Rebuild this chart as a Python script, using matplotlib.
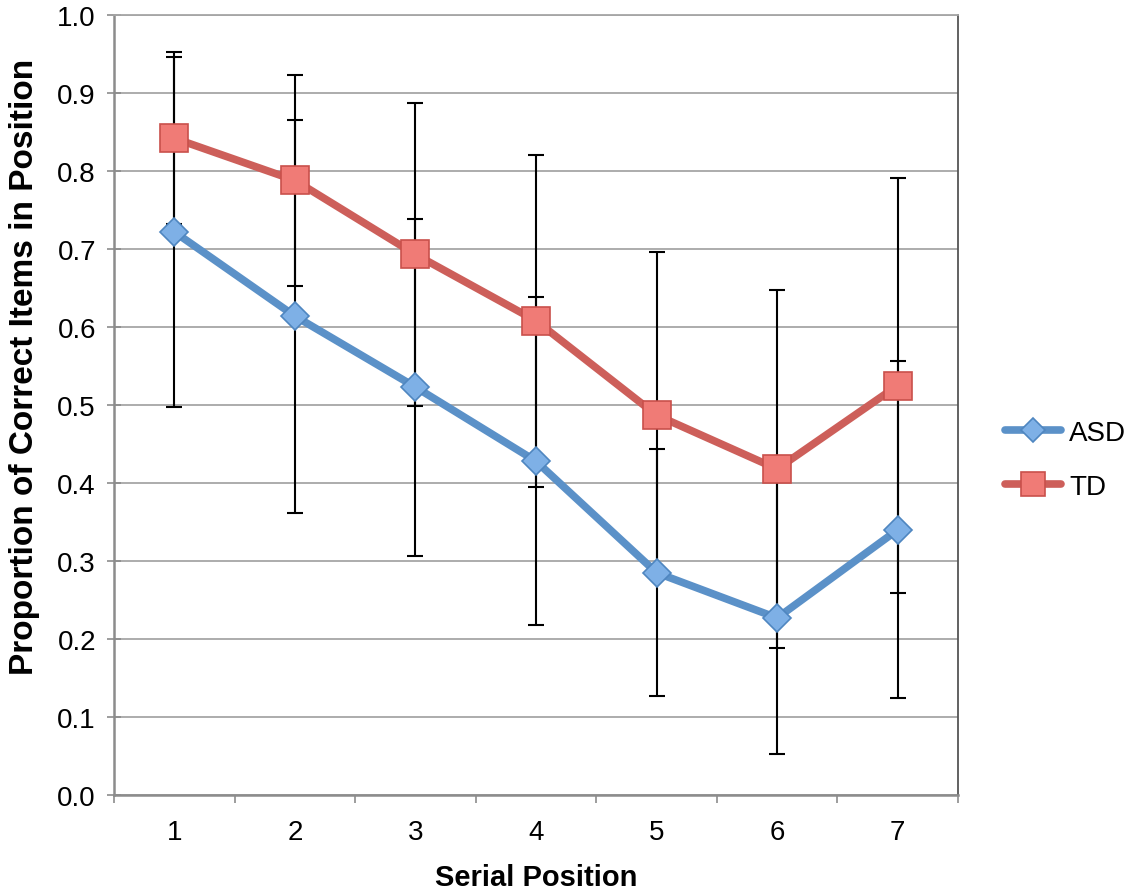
import matplotlib
matplotlib.use("Agg")
import matplotlib.pyplot as plt
import numpy as np

plt.rcParams['font.family'] = ['Liberation Sans', 'DejaVu Sans']

positions = [1, 2, 3, 4, 5, 6, 7]
asd_mean = [0.722, 0.614, 0.523, 0.428, 0.285, 0.227, 0.340]
asd_err = [0.224, 0.252, 0.216, 0.210, 0.158, 0.175, 0.216]
td_mean = [0.842, 0.788, 0.693, 0.608, 0.487, 0.418, 0.525]
td_err = [0.110, 0.135, 0.194, 0.213, 0.209, 0.229, 0.266]
y_ticks = [0.0, 0.1, 0.2, 0.3, 0.4, 0.5, 0.6, 0.7, 0.8, 0.9, 1.0]

fig = plt.figure(figsize=(11.38, 8.95), dpi=100)
ax = fig.add_axes([0.1002, 0.1106, 0.7416, 0.8715])

# error bars first, below the lines
for m, e in [(asd_mean, asd_err), (td_mean, td_err)]:
    ax.errorbar(positions, m, yerr=e, fmt='none', ecolor='black',
                elinewidth=1.5, capsize=5.5, capthick=1.5, zorder=2)

ax.plot(positions, asd_mean, color='#5B91C8', lw=5.5, marker='D', ms=14,
        mfc='#7EB0E6', mec='#4F86C0', mew=1.2, label='ASD', zorder=3,
        solid_capstyle='round')
ax.plot(positions, td_mean, color='#CD5F5A', lw=5.5, marker='s', ms=19.5,
        mfc='#F07B76', mec='#C9504B', mew=1.2, label='TD', zorder=4,
        solid_capstyle='round')

ax.set_xlim(0.5, 7.5)
ax.set_ylim(0, 1.0)
ax.set_yticks(y_ticks)
ax.set_yticklabels([f"{v:.1f}" for v in y_ticks])
ax.set_xticks(positions)
ax.set_xticks(np.arange(0.5, 8, 1), minor=True)
ax.tick_params(axis='x', which='major', length=0, labelsize=20, pad=17)
ax.tick_params(axis='x', which='minor', length=6, width=1.2, color='#8C8C8C',
               direction='out')
ax.tick_params(axis='y', length=10, width=1.2, color='#8C8C8C',
               direction='inout', labelsize=20, pad=8)

ax.yaxis.grid(True, color='#A6A6A6', lw=1.3)
ax.set_axisbelow(True)
for s in ['left', 'bottom']:
    ax.spines[s].set_color('#8C8C8C')
    ax.spines[s].set_linewidth(1.8)
ax.spines['top'].set_color('#A6A6A6')
ax.spines['top'].set_linewidth(1.3)
ax.spines['right'].set_color('#555555')
ax.spines['right'].set_linewidth(1.3)

ax.set_xlabel('Serial Position', fontsize=21, fontweight='bold', labelpad=13)
ax.set_ylabel('Proportion of Correct Items in Position', fontsize=24,
              fontweight='bold')
ax.yaxis.set_label_coords(-0.088, 0.55)

ax.legend(loc='center left', bbox_to_anchor=(1.0, 0.43), frameon=False,
          fontsize=20, handlelength=2.0, labelspacing=1.0, handletextpad=0.3,
          borderaxespad=1.3, markerscale=0.85)

fig.savefig('out.png', dpi=100)
